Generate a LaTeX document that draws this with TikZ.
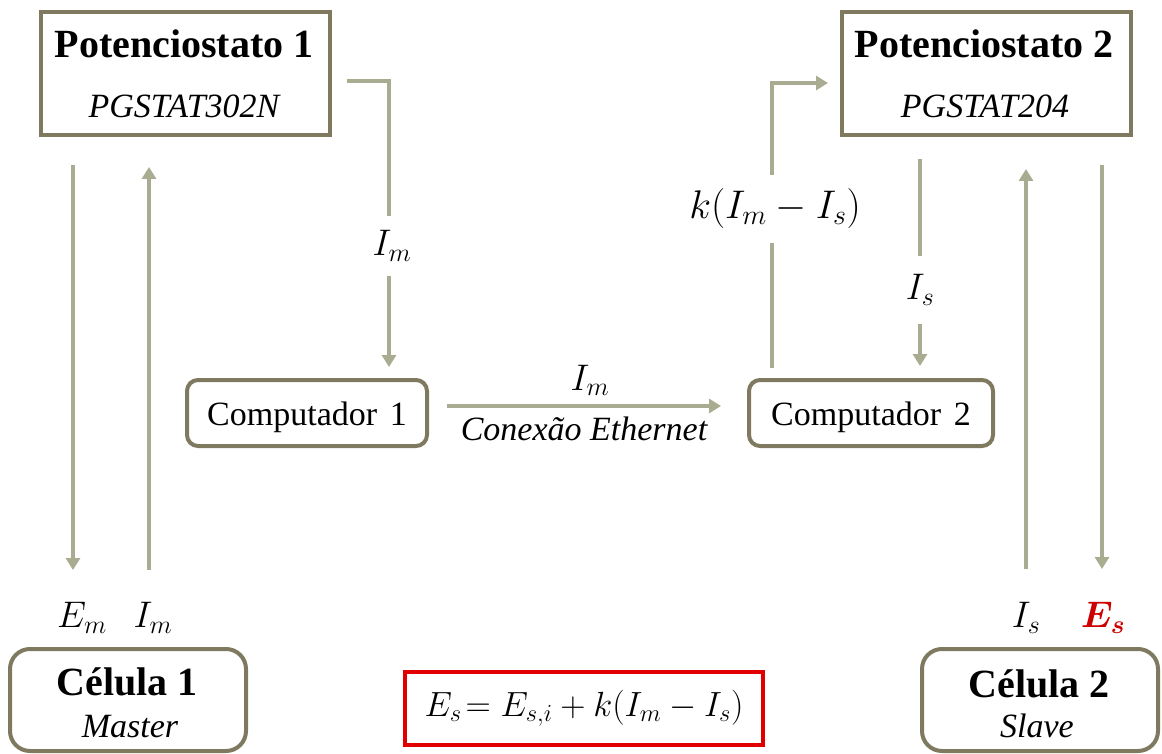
\RequirePackage{fix-cm}
\documentclass[tikz,border=0pt]{standalone}
\usepackage{amsmath,bm}
\usepackage{fontspec}
\setmainfont{Liberation Serif}
\usetikzlibrary{arrows.meta,calc}
\definecolor{arrc}{RGB}{169,172,145}
\definecolor{boxc}{RGB}{127,122,95}
\definecolor{redc}{RGB}{225,0,0}
\definecolor{esred}{RGB}{204,0,0}
\begin{document}
\begin{tikzpicture}[x=1pt,y=-1pt,
  sqbox/.style={draw=boxc, line width=4pt, inner sep=0pt, fill=white},
  rbox/.style={draw=boxc, line width=4pt, inner sep=0pt, rounded corners=20pt, fill=white},
  cbox/.style={draw=boxc, line width=4pt, inner sep=0pt, rounded corners=11pt, fill=white,
    font=\fontsize{34}{34}\selectfont, text height=31pt, text depth=7pt},
  titlef/.style={font=\bfseries\fontsize{40}{40}\selectfont, inner sep=0pt, anchor=base},
  subf/.style={font=\itshape\fontsize{34}{34}\selectfont, inner sep=0pt, anchor=base},
  lab/.style={font=\fontsize{37}{37}\selectfont, fill=white, inner xsep=3pt, inner ysep=0pt},
  arr/.style={draw=arrc, line width=4pt, -{Triangle[width=14pt,length=12pt]}},
  ]
\useasboundingbox (0,0) rectangle (1162,754);
\clip (0,0) rectangle (1162,754);
\fill[white] (0,0) rectangle (1162,754);

% boxes
\node[sqbox, minimum width=289pt, minimum height=123pt] (p1) at (185.5,73.5) {};
\node[sqbox, minimum width=289pt, minimum height=123pt] (p2) at (986.5,73.5) {};
\node[titlef] (p1t) at (184,58) {Potenciostato 1};
\node[subf] (p1s) at (184,118) {PGSTAT302N};
\node[titlef] (p2t) at (984,58) {Potenciostato 2};
\node[subf] (p2s) at (985,118) {PGSTAT204};

\node[cbox, minimum width=240pt, minimum height=66pt] (c1) at (307,413) {Computador\hspace{0.12em} 1};
\node[cbox, minimum width=244pt, minimum height=66pt] (c2) at (871,413) {Computador\hspace{0.12em} 2};

\node[rbox, minimum width=236pt, minimum height=102pt] (cel1) at (128,700) {};
\node[rbox, minimum width=236pt, minimum height=102pt] (cel2) at (1040,700) {};
\node[titlef] (cel1t) at (127,695) {Célula 1};
\node[subf] (cel1s) at (130,737) {Master};
\node[titlef] (cel2t) at (1039,697) {Célula 2};
\node[subf] (cel2s) at (1037,737) {Slave};

\node[draw=redc, line width=4pt, minimum width=358pt, minimum height=73pt, inner sep=0pt,
      font=\fontsize{35}{35}\selectfont] (eq) at (584,708.5) {$E_s\!= E_{s,i} + k(I_m - I_s)$};

% connectors
\draw[arr, shorten <=0pt, shorten >=11pt] ([shift={(15,8)}]p1.east) -| ([xshift=82]c1.north);
\draw[arr, shorten <=18pt, shorten >=26pt] ([yshift=7]c1.east) -- ([yshift=7]c2.west);
\draw[arr, shorten <=10pt, shorten >=12pt] ([xshift=-99]c2.north) |- ([yshift=-9.5]p2.west);
\draw[arr, shorten <=22pt, shorten >=12pt] ([xshift=-66.5]p2.south) -- ([xshift=49]c2.north);
\draw[arr, shorten <=28pt, shorten >=77pt] ([xshift=-112.5]p1.south) -- ([xshift=-55]cel1.north);
\draw[arr, shorten <=77pt, shorten >=30pt] ([xshift=21]cel1.north) -- ([xshift=-36.5]p1.south);
\draw[arr, shorten <=78pt, shorten >=32pt] ([xshift=-14]cel2.north) -- ([xshift=39.5]p2.south);
\draw[arr, shorten <=28pt, shorten >=78pt] ([xshift=115.5]p2.south) -- ([xshift=62]cel2.north);

% labels
\node[lab, minimum height=60pt] (l1) at (392,246) {$I_m$};
\node[lab, fill=none, anchor=base] (l2) at (590,390) {$I_m$};
\node[subf] (l3) at (584,440) {Conexão Ethernet};
\node[lab, minimum height=68pt, font=\fontsize{40}{40}\selectfont] (l4) at (775,209) {$k(I_m - I_s)$};
\node[lab, minimum height=68pt] (l5) at (920,290) {$I_s$};
\node[lab, fill=none] (l6) at (82,618) {$E_m$};
\node[lab, fill=none] (l7) at (153,618) {$I_m$};
\node[lab, fill=none] (l8) at (1026,618) {$I_s$};
\node[lab, fill=none, text=esred] (l9) at (1103,618) {$\bm{E_s}$};
\end{tikzpicture}
\end{document}
